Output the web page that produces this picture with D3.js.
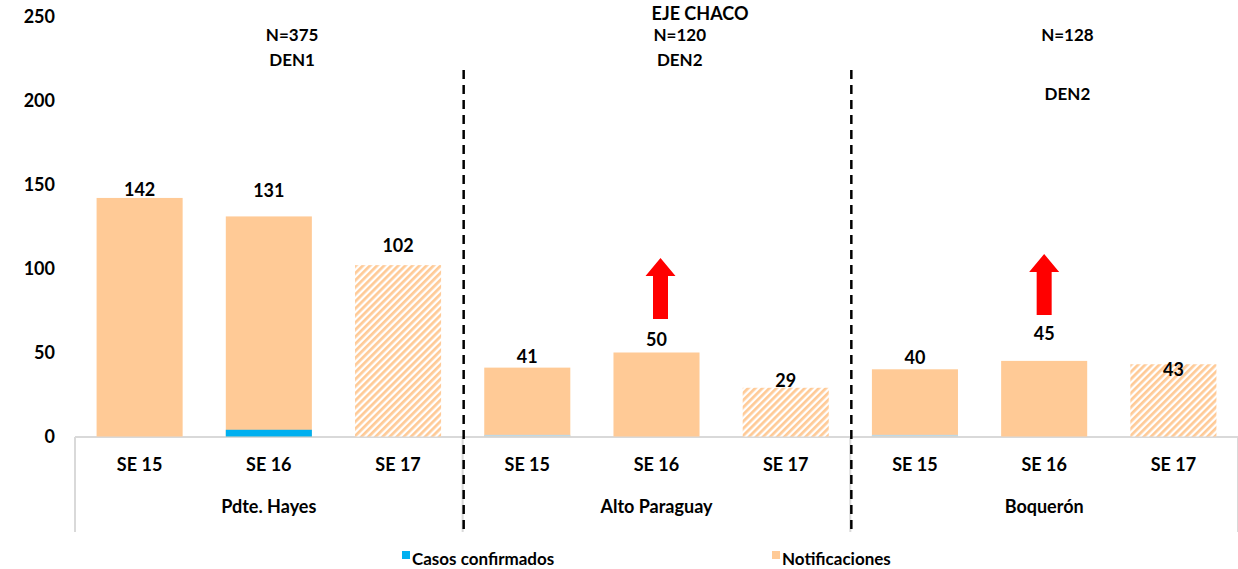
<!DOCTYPE html>
<html>
<head>
<meta charset="utf-8">
<script src="https://cdn.jsdelivr.net/npm/d3@7"></script>
<style>
  body { margin: 0; background: #fff; }
  svg { display: block; font-family: Lato, "Open Sans", sans-serif; font-weight: 700; }
</style>
</head>
<body>
<svg id="chart" width="1238" height="569"></svg>
<script>
// data
const departments = ['Pdte. Hayes', 'Alto Paraguay', 'Boquerón'];
const weeks = ['SE 15', 'SE 16', 'SE 17'];
const notificaciones = [
  [142, 131, 102],
  [41, 50, 29],
  [40, 45, 43]
];
const confirmados = [
  [0, 4, 0],
  [1, 0, 0],
  [1, 0, 0]
];
const nTotals = ['N=375', 'N=120', 'N=128'];
const serotypes = ['DEN1', 'DEN2', 'DEN2'];
const yTicks = [0, 50, 100, 150, 200, 250];
const risingWeek = [null, 'SE 16', 'SE 16'];

const W = 1238, H = 569;
const M = { left: 75, right: 0, top: 16.5, bottom: 132.5 };
const COLOR_NOTIF = '#FFCA96';
const COLOR_CONF = '#00B0F0';

const svg = d3.select('#chart');

// hatch pattern for the incomplete week
const defs = svg.append('defs');
const pat = defs.append('pattern')
  .attr('id', 'hatch')
  .attr('patternUnits', 'userSpaceOnUse')
  .attr('width', 5).attr('height', 5)
  .attr('patternTransform', 'rotate(45)');
pat.append('rect').attr('width', 5).attr('height', 5).attr('fill', '#fff');
pat.append('rect').attr('width', 2.7).attr('height', 5).attr('fill', COLOR_NOTIF);

const x0 = d3.scaleBand().domain(departments).range([M.left, W - M.right]).padding(0);
const x1 = d3.scaleBand().domain(weeks).range([0, x0.bandwidth()])
  .paddingInner(0.334).paddingOuter(0.167);
const y = d3.scaleLinear().domain([0, 250]).range([H - M.bottom, M.top]);

// y axis (labels only)
const yAxis = svg.append('g')
  .attr('transform', `translate(${M.left - 20},0)`)
  .call(d3.axisLeft(y).tickValues(yTicks).tickSize(0).tickPadding(0));
yAxis.select('.domain').remove();
yAxis.selectAll('text')
  .attr('font-family', 'Lato, sans-serif')
  .attr('font-weight', 700)
  .attr('font-size', 18)
  .attr('fill', '#000');

// title
svg.append('text')
  .attr('x', 700).attr('y', 20)
  .attr('text-anchor', 'middle')
  .attr('font-size', 18)
  .text('EJE CHACO');

// category axis: baseline + group boundary ticks
const base = y(0) + 0.5;
const axisG = svg.append('g').attr('class', 'x-axis');
axisG.append('line')
  .attr('x1', M.left).attr('x2', W)
  .attr('y1', base).attr('y2', base)
  .attr('stroke', '#d9d9d9').attr('stroke-width', 2);
axisG.selectAll('line.sep')
  .data(departments.concat(['end']))
  .join('line')
  .attr('class', 'sep')
  .attr('x1', (d, i) => M.left + i * x0.bandwidth())
  .attr('x2', (d, i) => M.left + i * x0.bandwidth())
  .attr('y1', base).attr('y2', 532)
  .attr('stroke', '#d9d9d9').attr('stroke-width', 2);

const groups = svg.selectAll('g.dept')
  .data(departments)
  .join('g')
  .attr('class', 'dept')
  .attr('transform', d => `translate(${x0(d)},0)`);

groups.selectAll('text.week')
  .data(weeks)
  .join('text')
  .attr('class', 'week')
  .attr('x', d => x1(d) + x1.bandwidth() / 2)
  .attr('y', 471)
  .attr('text-anchor', 'middle')
  .attr('font-size', 18)
  .text(d => d);

groups.append('text')
  .attr('x', x0.bandwidth() / 2)
  .attr('y', 513)
  .attr('text-anchor', 'middle')
  .attr('font-size', 18)
  .text(d => d);

// notification bars
groups.selectAll('rect.notif')
  .data((d, gi) => weeks.map((w, wi) => ({ w, v: notificaciones[gi][wi] })))
  .join('rect')
  .attr('class', 'notif')
  .attr('x', d => x1(d.w))
  .attr('width', x1.bandwidth())
  .attr('y', d => y(d.v))
  .attr('height', d => y(0) - y(d.v))
  .attr('fill', d => d.w === 'SE 17' ? 'url(#hatch)' : COLOR_NOTIF);

// confirmed cases (overlaid from the baseline)
groups.selectAll('rect.conf')
  .data((d, gi) => weeks.map((w, wi) => ({ w, v: confirmados[gi][wi] })))
  .join('rect')
  .attr('class', 'conf')
  .attr('x', d => x1(d.w))
  .attr('width', x1.bandwidth())
  .attr('y', d => y(d.v))
  .attr('height', d => y(0) - y(d.v))
  .attr('fill', d => d.v >= 2 ? COLOR_CONF : '#bfd9e6');

// value labels (a few nudged like the original)
const nudge = { '2-2': 17, '1-2': 4, '0-1': -14, '1-1': -2, '2-1': -16, '0-0': 3, '0-2': -8 };
groups.selectAll('text.val')
  .data((d, gi) => weeks.map((w, wi) => ({ w, v: notificaciones[gi][wi], k: gi + '-' + wi })))
  .join('text')
  .attr('class', 'val')
  .attr('x', d => x1(d.w) + x1.bandwidth() / 2)
  .attr('y', d => y(d.v) - 5 + (nudge[d.k] || 0))
  .attr('text-anchor', 'middle')
  .attr('font-size', 18)
  .text(d => d.v);

// N / serotype header per group
groups.append('text')
  .attr('x', x0.bandwidth() * 0.56)
  .attr('y', 41)
  .attr('text-anchor', 'middle')
  .attr('font-size', 17)
  .text((d, i) => nTotals[i]);
groups.append('text')
  .attr('x', x0.bandwidth() * 0.56)
  .attr('y', (d, i) => i === 2 ? 100 : 66)
  .attr('text-anchor', 'middle')
  .attr('font-size', 17)
  .text((d, i) => serotypes[i]);

// red up arrows for rising weeks
const arrowPath = 'M0,0 L15,18 L7.5,18 L7.5,61 L-7.5,61 L-7.5,18 L-15,18 Z';
groups.filter((d, i) => risingWeek[i] !== null)
  .append('path')
  .attr('d', arrowPath)
  .attr('fill', '#FF0000')
  .attr('transform', d => {
    const gi = departments.indexOf(d);
    const cx = x1(risingWeek[gi]) + x1.bandwidth() / 2 + (gi === 1 ? 4 : 0);
    return `translate(${cx},${gi === 1 ? 258 : 254})`;
  });

// dashed separators between departments
svg.selectAll('line.dash')
  .data(departments.slice(1))
  .join('line')
  .attr('class', 'dash')
  .attr('x1', d => x0(d) + 1).attr('x2', d => x0(d) + 1)
  .attr('y1', 70).attr('y2', 530)
  .attr('stroke', '#000').attr('stroke-width', 2.5)
  .attr('stroke-dasharray', '9,6');

// legend
const legendItems = [
  { label: 'Casos confirmados', color: COLOR_CONF, x: 402 },
  { label: 'Notificaciones', color: COLOR_NOTIF, x: 772 }
];
const leg = svg.selectAll('g.legend')
  .data(legendItems)
  .join('g')
  .attr('class', 'legend')
  .attr('transform', d => `translate(${d.x},551)`);
leg.append('rect').attr('width', 8).attr('height', 8).attr('fill', d => d.color);
leg.append('text')
  .attr('x', 10).attr('y', 14)
  .attr('font-size', 17)
  .text(d => d.label);
</script>
</body>
</html>
